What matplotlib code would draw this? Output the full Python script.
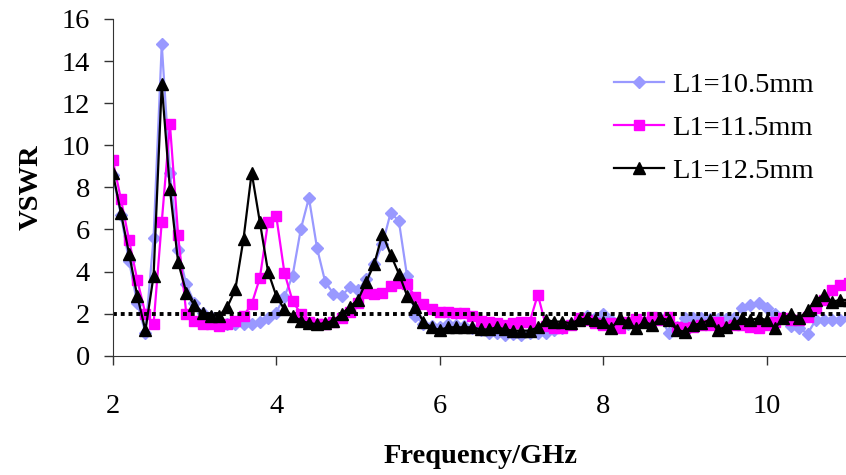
import matplotlib
matplotlib.use("Agg")
from matplotlib import pyplot as plt

plt.rcParams['font.family'] = ['Liberation Serif', 'DejaVu Serif']

# frequency grid (GHz)
freq = [2.0, 2.1, 2.2, 2.3, 2.4, 2.5, 2.6, 2.7, 2.8, 2.9,
        3.0, 3.1, 3.2, 3.3, 3.4, 3.5, 3.6, 3.7, 3.8, 3.9,
        4.0, 4.1, 4.2, 4.3, 4.4, 4.5, 4.6, 4.7, 4.8, 4.9,
        5.0, 5.1, 5.2, 5.3, 5.4, 5.5, 5.6, 5.7, 5.8, 5.9,
        6.0, 6.1, 6.2, 6.3, 6.4, 6.5, 6.6, 6.7, 6.8, 6.9,
        7.0, 7.1, 7.2, 7.3, 7.4, 7.5, 7.6, 7.7, 7.8, 7.9,
        8.0, 8.1, 8.2, 8.3, 8.4, 8.5, 8.6, 8.7, 8.8, 8.9,
        9.0, 9.1, 9.2, 9.3, 9.4, 9.5, 9.6, 9.7, 9.8, 9.9,
        10.0, 10.1, 10.2, 10.3, 10.4, 10.5, 10.6, 10.7, 10.8, 10.9,
        11.0]

vswr_105 = [8.6, 6.7, 4.5, 2.5, 1.1, 5.6, 14.8, 8.7, 5.0, 3.4,
            2.5, 2.05, 1.85, 1.65, 1.5, 1.5, 1.5, 1.5, 1.6, 1.8,
            2.05, 2.8, 3.8, 6.0, 7.5, 5.1, 3.5, 2.95, 2.85, 3.25,
            3.1, 3.65, 4.35, 5.3, 6.8, 6.4, 3.8, 1.9, 1.5, 1.4,
            1.35, 1.5, 1.45, 1.4, 1.3, 1.2, 1.1, 1.1, 1.0, 1.05,
            1.0, 1.1, 1.1, 1.1, 1.2, 1.3, 1.5, 1.7, 1.9, 1.8,
            2.0, 1.7, 1.6, 1.5, 1.4, 1.6, 1.8, 1.8, 1.1, 1.35,
            1.8, 1.8, 1.8, 1.75, 1.75, 1.75, 1.8, 2.25, 2.4, 2.5,
            2.25, 2.0, 1.85, 1.4, 1.3, 1.05, 1.7, 1.7, 1.7, 1.7,
            1.85]

vswr_115 = [9.3, 7.45, 5.5, 3.6, 2.0, 1.5, 6.35, 11.0, 5.75, 2.0,
            1.67, 1.5, 1.5, 1.43, 1.5, 1.67, 1.9, 2.45, 3.7, 6.35,
            6.65, 3.95, 2.6, 2.0, 1.6, 1.5, 1.5, 1.6, 1.8, 2.1,
            2.5, 3.0, 2.95, 3.0, 3.3, 3.45, 3.4, 2.8, 2.45, 2.2,
            2.1, 2.1, 2.05, 2.05, 1.9, 1.65, 1.6, 1.55, 1.45, 1.55,
            1.6, 1.6, 2.9, 1.4, 1.3, 1.3, 1.45, 1.8, 1.7, 1.55,
            1.45, 1.55, 1.3, 1.6, 1.75, 1.62, 1.85, 1.7, 1.85, 1.38,
            1.3, 1.38, 1.46, 1.46, 1.62, 1.38, 1.46, 1.46, 1.38, 1.3,
            1.46, 1.62, 1.78, 1.7, 1.7, 1.85, 2.25, 2.65, 3.1, 3.35,
            3.45]

vswr_125 = [8.7, 6.8, 4.85, 2.85, 1.2, 3.8, 12.9, 7.9, 4.45, 3.0,
            2.4, 2.05, 1.9, 1.9, 2.3, 3.15, 5.55, 8.7, 6.35, 4.0,
            2.85, 2.2, 1.9, 1.67, 1.55, 1.5, 1.55, 1.67, 1.98, 2.33,
            2.65, 3.5, 4.37, 5.8, 4.8, 3.9, 2.86, 2.33, 1.6, 1.35,
            1.22, 1.35, 1.35, 1.35, 1.35, 1.25, 1.25, 1.35, 1.25, 1.19,
            1.19, 1.19, 1.35, 1.7, 1.62, 1.62, 1.54, 1.7, 1.78, 1.7,
            1.62, 1.3, 1.78, 1.62, 1.3, 1.62, 1.46, 1.78, 1.7, 1.22,
            1.14, 1.46, 1.54, 1.7, 1.22, 1.38, 1.54, 1.78, 1.7, 1.78,
            1.7, 1.3, 1.78, 2.0, 1.78, 2.17, 2.65, 2.88, 2.57, 2.65,
            2.65]

labels = ['L1=10.5mm', 'L1=11.5mm', 'L1=12.5mm']
ref_level = 2

fig = plt.figure(figsize=(8.46, 4.75), dpi=100)
ax = fig.add_axes([112.7 / 846, 119.3 / 475, (848.5 - 112.7) / 846, 336.7 / 475])

ax.plot(freq, vswr_105, color='#9999FF', lw=1.6, marker='D', ms=5.8, label=labels[0])
ax.plot(freq, vswr_115, color='#FF00FF', lw=1.6, marker='s', ms=7.2, label=labels[1])
ax.plot(freq, vswr_125, color='black', lw=1.6, marker='^', ms=8.4, label=labels[2])
ax.axhline(ref_level, color='black', lw=2.8, linestyle=(0, (1, 1)))

ax.set_xlim(2, 11)
ax.set_ylim(0, 16)
ax.set_xticks([2, 4, 6, 8, 10])
ax.set_yticks(range(0, 17, 2))
ax.spines['top'].set_visible(False)
ax.spines['right'].set_visible(False)
for s in ['left', 'bottom']:
    ax.spines[s].set_color('#333333')
ax.tick_params(axis='both', labelsize=20.5, length=6.3, width=1, color='#333333')
ax.tick_params(axis='x', pad=21)
ax.tick_params(axis='y', pad=10)

ax.set_xlabel('Frequency/GHz', fontsize=20.5, fontweight='bold', labelpad=18)
ax.set_ylabel('VSWR', fontsize=20.5, fontweight='bold', labelpad=13)

fig.legend(loc='center left', bbox_to_anchor=(614 / 846, (475 - 128) / 475),
           frameon=False, fontsize=20.5, borderpad=0, borderaxespad=0,
           handlelength=1.76, handletextpad=0.28, labelspacing=0.6)

fig.savefig('out.png', dpi=100)
